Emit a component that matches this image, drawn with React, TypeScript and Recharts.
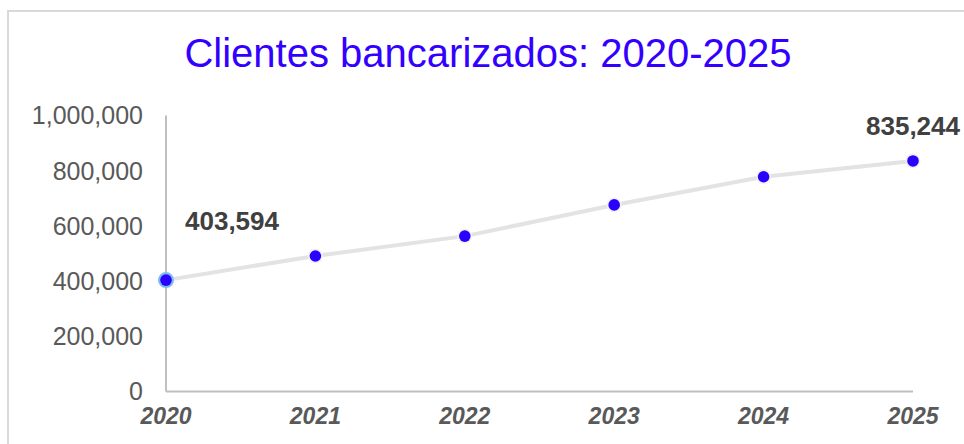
import React from "react";
import { LineChart, Line, XAxis, YAxis, LabelList } from "recharts";

const years = ["2020", "2021", "2022", "2023", "2024", "2025"];
const clientes = [403594, 491000, 563000, 676000, 778000, 835244];
const yTicks = [0, 200000, 400000, 600000, 800000, 1000000];
const title = "Clientes bancarizados: 2020-2025";

const data = years.map((y, i) => ({ year: y, value: clientes[i] }));

const fmt = (v: number) => v.toLocaleString("en-US");

const renderDot = (props: any) => {
  const { cx, cy, index } = props;
  if (cx == null || cy == null) return <g key={`d${index}`} />;
  const first = index === 0;
  return (
    <g key={`d${index}`}>
      <circle cx={cx} cy={cy} r={first ? 8 : 7.5} fill={first ? "#7fb8ef" : "#f2f2f2"} />
      <circle cx={cx} cy={cy} r={5.8} fill="#2a00ff" />
    </g>
  );
};

const renderLabel = (props: any) => {
  const { x, y, index, value } = props;
  const last = clientes.length - 1;
  if (index === 0) {
    return (
      <text key={`l${index}`} x={x + 66} y={y - 50} textAnchor="middle" fill="#404040" fontSize={26} fontWeight="bold" fontFamily="Liberation Sans, Arial, sans-serif">
        {fmt(value)}
      </text>
    );
  }
  if (index === last) {
    return (
      <text key={`l${index}`} x={x} y={y - 26} textAnchor="middle" fill="#404040" fontSize={26} fontWeight="bold" fontFamily="Liberation Sans, Arial, sans-serif">
        {fmt(value)}
      </text>
    );
  }
  return <g key={`l${index}`} />;
};

export default function App() {
  return (
    <div style={{ position: "fixed", left: 0, top: 0, width: 964, height: 444, overflow: "hidden", background: "#fff" }}>
      <div style={{ position: "absolute", left: 7, top: 9.5, width: 1000, height: 500, border: "2px solid #d9d9d9", boxSizing: "border-box" }} />
      <div
        style={{
          position: "absolute",
          left: 0,
          top: 33,
          width: 976,
          textAlign: "center",
          fontFamily: "Liberation Sans, Arial, sans-serif",
          fontSize: 40,
          lineHeight: "40px",
          color: "#3300ff",
          whiteSpace: "nowrap",
        }}
      >
        {title}
      </div>
      <div style={{ position: "absolute", left: 0, top: 0 }}>
        <LineChart width={964} height={444} data={data} margin={{ top: 115.5, right: 51, bottom: 0, left: 0 }}>
          <XAxis
            dataKey="year"
            padding={{ left: 0, right: 0 }}
            tickLine={false}
            axisLine={{ stroke: "#bfbfbf", strokeWidth: 2 }}
            tickMargin={10}
            interval={0}
            height={52.5}
            tick={{ fill: "#595959", fontSize: 23, fontWeight: "bold", fontStyle: "italic", fontFamily: "Liberation Sans, Arial, sans-serif" }}
          />
          <YAxis
            width={166}
            domain={[0, 1000000]}
            ticks={yTicks}
            tickFormatter={fmt}
            tickLine={false}
            axisLine={{ stroke: "#bfbfbf", strokeWidth: 2 }}
            tickMargin={17}
            interval={0}
            tick={{ fill: "#595959", fontSize: 25, fontFamily: "Liberation Sans, Arial, sans-serif" }}
          />
          <Line
            type="linear"
            dataKey="value"
            stroke="#e3e3e3"
            strokeWidth={4}
            dot={renderDot}
            activeDot={false}
            isAnimationActive={false}
          >
            <LabelList dataKey="value" content={renderLabel} />
          </Line>
        </LineChart>
      </div>
    </div>
  );
}
